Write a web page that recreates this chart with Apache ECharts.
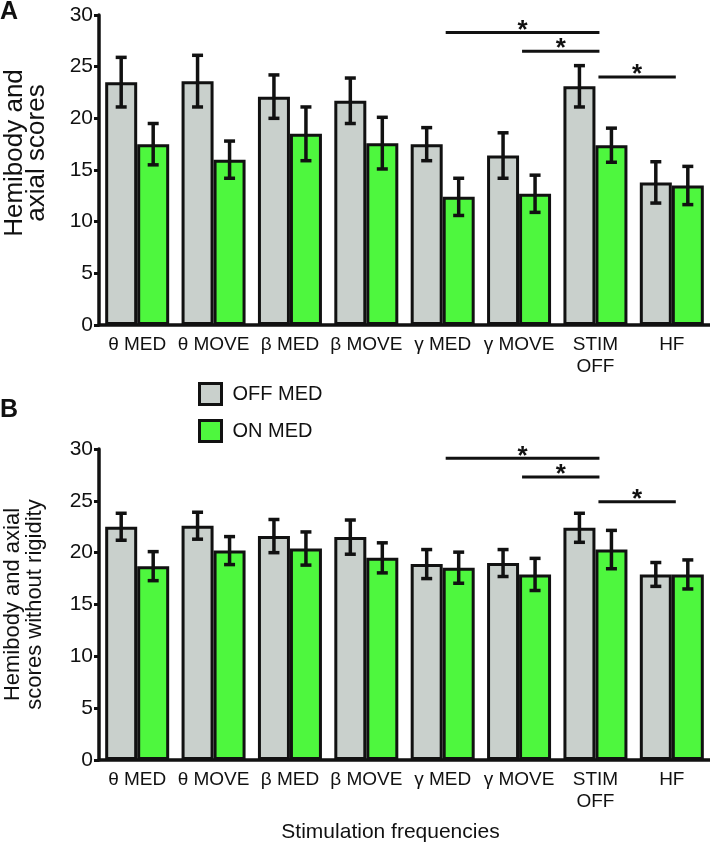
<!DOCTYPE html>
<html>
<head>
<meta charset="utf-8">
<script src="https://cdn.jsdelivr.net/npm/echarts@6/dist/echarts.min.js"></script>
<style>
  html, body { margin: 0; padding: 0; background: #fff; }
  #chart { width: 710px; height: 845px; }
</style>
</head>
<body>
<div id="chart"></div>
<script>
var categories = ['θ MED', 'θ MOVE', 'β MED', 'β MOVE', 'γ MED', 'γ MOVE', 'STIM\nOFF', 'HF'];

// panel A : hemibody and axial scores
var offMedA = [23.5, 23.6, 22.1, 21.7, 17.5, 16.4, 23.1, 13.8];
var offErrA = [2.4, 2.5, 2.1, 2.2, 1.6, 2.2, 2.0, 2.0];
var onMedA = [17.5, 16.0, 18.5, 17.6, 12.4, 12.7, 17.4, 13.5];
var onErrA = [2.0, 1.8, 2.6, 2.5, 1.8, 1.8, 1.65, 1.85];
// [from category, to category, height]
var sigA = [[4, 6, 28.3], [5, 6, 26.5], [6, 7, 24.0]];

// panel B : without rigidity
var offMedB = [22.5, 22.6, 21.6, 21.5, 18.9, 19.0, 22.4, 17.9];
var offErrB = [1.3, 1.3, 1.6, 1.65, 1.4, 1.3, 1.4, 1.15];
var onMedB = [18.7, 20.2, 20.4, 19.5, 18.55, 17.9, 20.3, 17.9];
var onErrB = [1.4, 1.35, 1.6, 1.45, 1.5, 1.55, 1.85, 1.4];
var sigB = [[4, 6, 29.1], [5, 6, 27.3], [6, 7, 24.9]];

var yTicks = [0, 5, 10, 15, 20, 25, 30];

var GRAY = '#c9d0cc';
var GREEN = '#4ef73e';
var INK = '#111';
var FONT = 'Liberation Sans, Arial, sans-serif';
var BAR_W = 32;

var myChart = echarts.init(document.getElementById('chart'));

function errData(vals, errs) {
    return vals.map(function (v, i) { return [i, v, errs[i]]; });
}

function errRender(offset) {
    return function (params, api) {
        var x = api.value(0), v = api.value(1), e = api.value(2);
        var top = api.coord([x, v + e]);
        var bot = api.coord([x, v - e]);
        var cx = top[0] + offset;
        var st = { stroke: INK, lineWidth: 3.5 };
        return {
            type: 'group',
            children: [
                { type: 'line', shape: { x1: cx, y1: top[1], x2: cx, y2: bot[1] }, style: st },
                { type: 'line', shape: { x1: cx - 5.5, y1: top[1], x2: cx + 5.5, y2: top[1] }, style: st },
                { type: 'line', shape: { x1: cx - 5.5, y1: bot[1], x2: cx + 5.5, y2: bot[1] }, style: st }
            ]
        };
    };
}

function sigRender(params, api) {
    var p1 = api.coord([api.value(0), api.value(2)]);
    var p2 = api.coord([api.value(1), api.value(2)]);
    var x1 = p1[0] + 3, x2 = p2[0] + 4, y = p1[1];
    return {
        type: 'group',
        children: [
            { type: 'line', shape: { x1: x1, y1: y, x2: x2, y2: y }, style: { stroke: INK, lineWidth: 3 } },
            { type: 'text', x: (x1 + x2) / 2, y: y - 2, style: { text: '*', fill: INK, font: 'bold 26px ' + FONT, align: 'center', verticalAlign: 'middle' } }
        ]
    };
}

function makeX(idx, withName) {
    var ax = {
        type: 'category',
        gridIndex: idx,
        data: categories,
        axisLine: { lineStyle: { color: INK, width: 3.5 } },
        axisTick: { show: false },
        axisLabel: { color: INK, fontSize: 19, fontFamily: FONT, margin: 9, interval: 0, lineHeight: 22 }
    };
    if (withName) {
        ax.name = 'Stimulation frequencies';
        ax.nameLocation = 'middle';
        ax.nameGap = 62;
        ax.nameTextStyle = { color: INK, fontSize: 21, fontFamily: FONT, padding: [0, 28, 0, 0] };
    }
    return ax;
}

function makeY(idx, name, gap, size, pad) {
    return {
        type: 'value',
        gridIndex: idx,
        min: yTicks[0],
        max: yTicks[yTicks.length - 1],
        interval: 5,
        name: name,
        nameLocation: 'middle',
        nameGap: gap,
        nameRotate: 90,
        nameTextStyle: { color: INK, fontSize: size, fontFamily: FONT, lineHeight: 22, padding: pad },
        axisLine: { show: true, lineStyle: { color: INK, width: 3.5 } },
        axisTick: { show: true, length: 5, lineStyle: { color: INK, width: 3 } },
        axisLabel: { color: INK, fontSize: 21, fontFamily: FONT, margin: 6 },
        splitLine: { show: false }
    };
}

function barSeries(name, color, vals, idx) {
    return {
        name: name,
        type: 'bar',
        xAxisIndex: idx,
        yAxisIndex: idx,
        data: vals,
        barWidth: BAR_W,
        barGap: '0%',
        itemStyle: { color: color, borderColor: INK, borderWidth: 3 }
    };
}

function errSeries(vals, errs, idx, offset) {
    return {
        type: 'custom',
        xAxisIndex: idx,
        yAxisIndex: idx,
        z: 3,
        data: errData(vals, errs),
        renderItem: errRender(offset)
    };
}

function sigSeries(list, idx) {
    return {
        type: 'custom',
        xAxisIndex: idx,
        yAxisIndex: idx,
        z: 3,
        data: list,
        renderItem: sigRender
    };
}

var option = {
    animation: false,
    textStyle: { fontFamily: FONT },
    grid: [
        { left: 99, right: 0, top: 15, height: 310, containLabel: false, outerBoundsMode: 'none' },
        { left: 99, right: 0, top: 449, height: 311, containLabel: false, outerBoundsMode: 'none' }
    ],
    legend: {
        data: ['OFF MED', 'ON MED'],
        orient: 'vertical',
        left: 198,
        top: 382,
        padding: 0,
        itemWidth: 22,
        itemHeight: 21,
        itemGap: 13,
        icon: 'rect',
        itemStyle: { borderColor: INK, borderWidth: 3 },
        textStyle: { color: INK, fontSize: 20, fontFamily: FONT, padding: [0, 0, 0, 6] }
    },
    graphic: [
        { type: 'text', left: 0, top: 0, style: { text: 'A', font: 'bold 25px ' + FONT, fill: INK } },
        { type: 'text', left: 0, top: 398, style: { text: 'B', font: 'bold 25px ' + FONT, fill: INK } }
    ],
    xAxis: [makeX(0, false), makeX(1, true)],
    yAxis: [
        makeY(0, 'Hemibody and\naxial scores', 51, 26, [0, 0, 0, 34]),
        makeY(1, 'Hemibody and axial\nscores without rigidity', 53, 22, 0)
    ],
    series: [
        barSeries('OFF MED', GRAY, offMedA, 0),
        barSeries('ON MED', GREEN, onMedA, 0),
        errSeries(offMedA, offErrA, 0, -BAR_W / 2),
        errSeries(onMedA, onErrA, 0, BAR_W / 2),
        sigSeries(sigA, 0),
        barSeries('OFF MED', GRAY, offMedB, 1),
        barSeries('ON MED', GREEN, onMedB, 1),
        errSeries(offMedB, offErrB, 1, -BAR_W / 2),
        errSeries(onMedB, onErrB, 1, BAR_W / 2),
        sigSeries(sigB, 1)
    ]
};

myChart.setOption(option);
</script>
</body>
</html>
